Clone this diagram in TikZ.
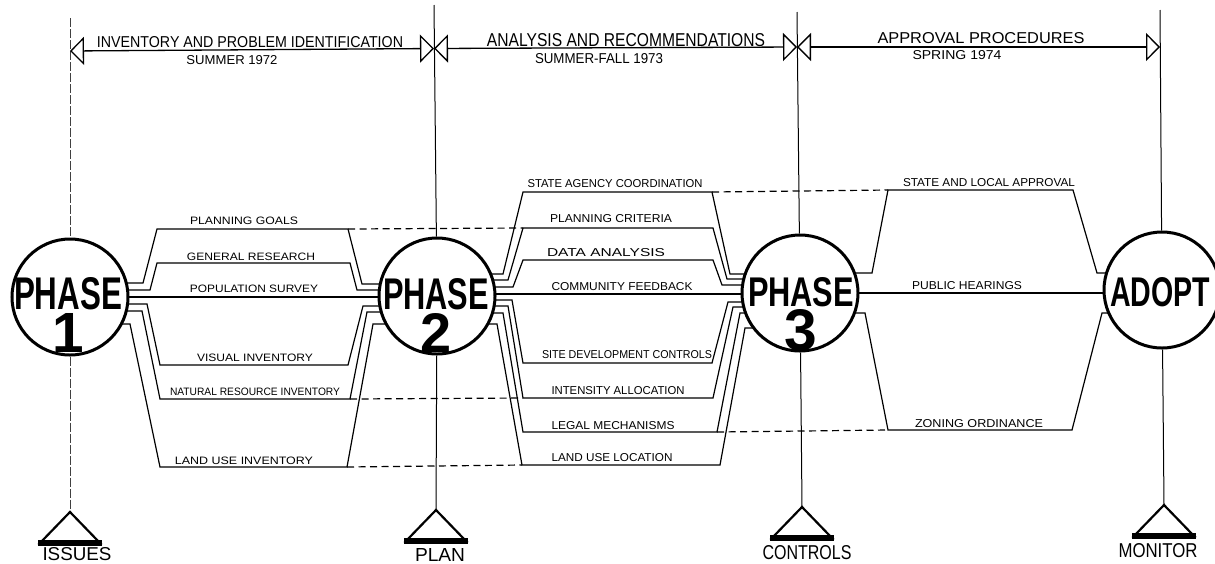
\documentclass[tikz,border=0pt]{standalone}
\usepackage{fontspec}
\setmainfont{Liberation Sans}
\usetikzlibrary{arrows.meta,calc}
\pgfdeclarelayer{bg}
\pgfsetlayers{bg,main}
\newcommand{\fitlbl}[3]{\resizebox{#1pt}{#2pt}{#3}}
\newcommand{\phasetxt}[4]{\fitlbl{#1}{#2}{PHASE}\\[2pt]\resizebox{!}{#3pt}{#4}}
\begin{document}
\begin{tikzpicture}[x=1pt,y=-1pt,
  phase/.style={circle,draw,line width=3pt,fill=white,minimum size=116pt,inner sep=0pt},
  lane/.style={line width=1.2pt,line join=miter},
  link/.style={line width=1.2pt,dash pattern=on 7pt off 4.5pt},
  axis/.style={line width=1pt},
  axisfaint/.style={line width=0.8pt,dash pattern=on 9pt off 2pt,black!75},
  lbl/.style={inner sep=0pt,anchor=center},
  ptxt/.style={inner sep=0pt,anchor=center,align=center,font=\bfseries},
  span/.style={line width=1.3pt,arrows={Triangle[open,length=14pt,width=28pt]-Triangle[open,length=14pt,width=28pt]}},
  tri/.style={line width=2.2pt,line join=miter},
  ]
\useasboundingbox (0,0) rectangle (1215,563);

% phase circles
\node[phase] (p1) at (70,297) {};
\node[phase] (p2) at (437,296) {};
\node[phase] (p3) at (800,293) {};
\node[phase] (pa) at (1162,290) {};

\node[ptxt] (p1w) at (68,315) {\phasetxt{108}{32}{39}{1}};
\node[ptxt] (p2w) at (436,315.5) {\phasetxt{106}{31}{39}{2}};
\node[ptxt] (p3w) at (801,314.5) {\phasetxt{106}{29}{41}{3}};
\node[lbl,font=\bfseries] (paw) at (1160,292.5) {\fitlbl{100}{29}{ADOPT}};

% axis coordinates
\coordinate (v1) at (70,18);   \coordinate (t1) at (70,512);
\coordinate (v2) at (434,5);   \coordinate (t2) at (436,510);
\coordinate (v3) at (797,12);  \coordinate (t3) at (802,507);
\coordinate (v4) at (1160,10); \coordinate (t4) at (1164,505);
\coordinate (d1) at (70,51);
\coordinate (d2) at (434,48.5);
\coordinate (d3) at (797,47);
\coordinate (d4) at (1160,47);

% dashed link end points
\coordinate (pgR) at (348,229); \coordinate (pcL) at (523,228);
\coordinate (saR) at (712,192); \coordinate (slL) at (888,190);
\coordinate (nrR) at (350,399); \coordinate (iaL) at (523,398);
\coordinate (luR) at (347,467); \coordinate (llL) at (522,465);
\coordinate (lmR) at (717,432); \coordinate (zoL) at (888,430);

\begin{pgfonlayer}{bg}
% vertical axes
\draw[axisfaint] (v1) -- (p1);
\draw[axisfaint] (p1) -- (t1);
\draw[axis] (v2) -- (p2); \draw[axis] (p2) -- (t2);
\draw[axis] (v3) -- (p3); \draw[axis] (p3) -- (t3);
\draw[axis] (v4) -- (pa); \draw[axis] (pa) -- (t4);

% phase 1 -> phase 2
\draw[lane] (p1 |- 0,283) -- (143,283) -- (157,229) -- (pgR) -- (362,284) -- (p2 |- 0,284);
\draw[lane] (p1 |- 0,290) -- (150,290) -- (157,263) -- (350,263) -- (357,290) -- (p2 |- 0,290);
\draw[lane] (p1 |- 0,297) -- (p2 |- 0,297);
\draw[lane] (p1 |- 0,304) -- (147,304) -- (160,365) -- (348,365) -- (363,306) -- (p2 |- 0,306);
\draw[lane] (p1 |- 0,311) -- (142,311) -- (160,399) -- (nrR) -- (367,312) -- (p2 |- 0,312);
\draw[lane] (p1 |- 0,324) -- (130,324) -- (160,467) -- (luR) -- (373,324) -- (p2 |- 0,324);

% phase 2 -> phase 3
\draw[lane] (p2 |- 0,274) -- (503,274) -- (523,192) -- (saR) -- (730,274) -- (p3 |- 0,274);
\draw[lane] (p2 |- 0,280) -- (508,280) -- (pcL) -- (713,228) -- (727,279) -- (p3 |- 0,279);
\draw[lane] (p2 |- 0,287) -- (513,287) -- (523,260) -- (713,260) -- (722,285) -- (p3 |- 0,285);
\draw[lane] (p2 |- 0,294) -- (p3 |- 0,294);
\draw[lane] (p2 |- 0,300) -- (512,300) -- (523,363) -- (712,363) -- (728,302) -- (p3 |- 0,302);
\draw[lane] (p2 |- 0,306) -- (508,306) -- (iaL) -- (713,398) -- (733,307) -- (p3 |- 0,307);
\draw[lane] (p2 |- 0,313) -- (503,313) -- (523,432) -- (lmR) -- (740,313) -- (p3 |- 0,313);
\draw[lane] (p2 |- 0,324) -- (497,324) -- (llL) -- (720,465) -- (745,328) -- (p3 |- 0,328);

% phase 3 -> adopt
\draw[lane] (p3 |- 0,273) -- (872,273) -- (slL) -- (1073,190) -- (1097,273) -- (pa |- 0,273);
\draw[lane] (p3 |- 0,293) -- (pa |- 0,293);
\draw[lane] (p3 |- 0,313) -- (865,313) -- (zoL) -- (1072,430) -- (1102,313) -- (pa |- 0,313);

% dashed links
\draw[link] (pgR) -- (pcL);
\draw[link] (saR) -- (slL);
\draw[link] (nrR) -- (iaL);
\draw[link] (luR) -- (llL);
\draw[link] (lmR) -- (zoL);
\end{pgfonlayer}

% top time spans
\draw[span] (d1) -- (d2);
\draw[span] (d2) -- (d3);
\draw[span] (d3) -- (d4);
\node[lbl] (h1) at (250,42.5) {\fitlbl{306}{11}{INVENTORY AND PROBLEM IDENTIFICATION}};
\node[lbl] (h1s) at (232,60) {\fitlbl{91}{9}{SUMMER 1972}};
\node[lbl] (h2) at (626,40) {\fitlbl{278}{13}{ANALYSIS AND RECOMMENDATIONS}};
\node[lbl] (h2s) at (599,59) {\fitlbl{128}{10}{SUMMER-FALL 1973}};
\node[lbl] (h3) at (981,38) {\fitlbl{207}{11}{APPROVAL PROCEDURES}};
\node[lbl] (h3s) at (957,55) {\fitlbl{89}{9}{SPRING 1974}};

% lane labels
\node[lbl] (a1) at (244,220.5) {\fitlbl{108}{7.5}{PLANNING GOALS}};
\node[lbl] (a2) at (251,256.5) {\fitlbl{128}{7.5}{GENERAL RESEARCH}};
\node[lbl] (a3) at (254,289) {\fitlbl{128}{7.5}{POPULATION SURVEY}};
\node[lbl] (a4) at (255,357.5) {\fitlbl{116}{7.5}{VISUAL INVENTORY}};
\node[lbl] (a5) at (255,391.5) {\fitlbl{170}{7.5}{NATURAL RESOURCE INVENTORY}};
\node[lbl] (a6) at (244,460.5) {\fitlbl{138}{7.5}{LAND USE INVENTORY}};

\node[lbl] (b1) at (615,184) {\fitlbl{175}{8}{STATE AGENCY COORDINATION}};
\node[lbl] (b2) at (611,219) {\fitlbl{122}{8}{PLANNING CRITERIA}};
\node[lbl] (b3) at (606,252.5) {\fitlbl{118}{8}{DATA ANALYSIS}};
\node[lbl] (b4) at (622,287) {\fitlbl{141}{8}{COMMUNITY FEEDBACK}};
\node[lbl] (b5) at (627,355) {\fitlbl{170}{8}{SITE DEVELOPMENT CONTROLS}};
\node[lbl] (b6) at (618,391) {\fitlbl{133}{8}{INTENSITY ALLOCATION}};
\node[lbl] (b7) at (613,426) {\fitlbl{123}{8}{LEGAL MECHANISMS}};
\node[lbl] (b8) at (612,457.5) {\fitlbl{121}{8}{LAND USE LOCATION}};

\node[lbl] (c1) at (989,182.5) {\fitlbl{172}{8}{STATE AND LOCAL APPROVAL}};
\node[lbl] (c2) at (967,286) {\fitlbl{110}{8}{PUBLIC HEARINGS}};
\node[lbl] (c3) at (979,424) {\fitlbl{128}{8}{ZONING ORDINANCE}};

% bottom triangles
\foreach \t in {t1,t2,t3,t4} {
  \draw[tri] (\t) -- ++(-30,31) -- ++(60,0) -- cycle;
  \fill ($(\t)+(-32,28)$) rectangle ($(\t)+(32,34)$);
}
\node[lbl] (i1) at (77,554.5) {\fitlbl{69}{13}{ISSUES}};
\node[lbl] (i2) at (440,554.5) {\fitlbl{50}{13}{PLAN}};
\node[lbl] (i3) at (807,552.5) {\fitlbl{89}{14}{CONTROLS}};
\node[lbl] (i4) at (1158,551) {\fitlbl{79}{14}{MONITOR}};
\end{tikzpicture}
\end{document}
